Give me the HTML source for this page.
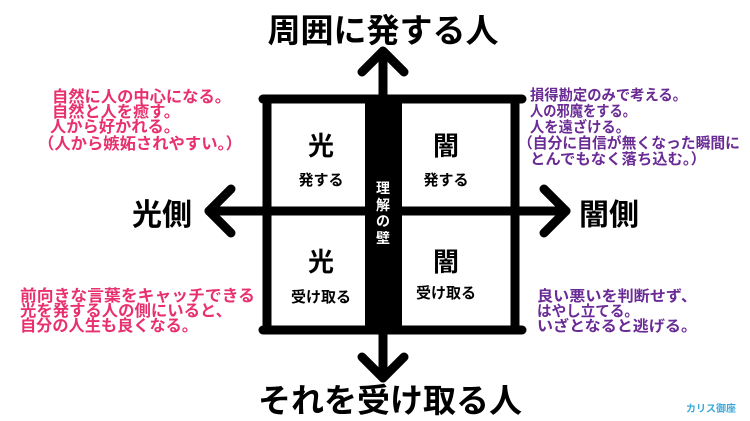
<!DOCTYPE html>
<html><head><meta charset="utf-8"><style>
html,body{margin:0;padding:0;background:#fff;}
svg{display:block;}
text{font-family:"Liberation Sans","Noto Sans CJK JP",sans-serif;font-weight:bold;}
</style></head><body>
<svg width="750" height="421" viewBox="0 0 750 421" xmlns="http://www.w3.org/2000/svg">
<g stroke="#000" stroke-width="9" stroke-linecap="round" stroke-linejoin="round" fill="none">
<line x1="383" y1="52" x2="383" y2="378"/>
<polyline points="362,72 383,51 404,72"/>
<polyline points="362,357 383,378 404,357"/>
<line x1="209" y1="211" x2="566" y2="211"/>
<polyline points="231,189 209,211 231,233"/>
<polyline points="544,189 566,211 544,233"/>
<rect x="267" y="99" width="248" height="231"/>
<line x1="263" y1="99" x2="522" y2="99"/>
<line x1="263" y1="330" x2="522" y2="330"/>
</g>
<rect x="365" y="99" width="37" height="231" fill="#000"/>
<g fill="#fff" font-size="14" text-anchor="middle">
<text x="383" y="193">理</text><text x="383" y="210">解</text><text x="383" y="226">の</text><text x="383" y="243">壁</text>
</g>
<g fill="#000" text-anchor="middle">
<text x="383" y="42" font-size="33">周囲に発する人</text>
<text x="390" y="412" font-size="33">それを受け取る人</text>
<text x="162" y="225" font-size="30">光側</text>
<text x="609" y="225" font-size="30">闇側</text>
<text x="321" y="155" font-size="26">光</text>
<text x="321" y="185" font-size="15">発する</text>
<text x="446" y="155" font-size="26">闇</text>
<text x="446" y="185" font-size="15">発する</text>
<text x="321" y="271" font-size="26">光</text>
<text x="321" y="302" font-size="15">受け取る</text>
<text x="446" y="271" font-size="26">闇</text>
<text x="446" y="298" font-size="15">受け取る</text>
</g>
<g fill="#e8306e" font-size="16" lengthAdjust="spacingAndGlyphs">
<text x="52" y="102" textLength="179" lengthAdjust="spacingAndGlyphs">自然に人の中心になる。</text>
<text x="52" y="117" textLength="128" lengthAdjust="spacingAndGlyphs">自然と人を癒す。</text>
<text x="50" y="132" textLength="130" lengthAdjust="spacingAndGlyphs">人から好かれる。</text>
<text x="38" y="149" textLength="204" lengthAdjust="spacingAndGlyphs">（人から嫉妬されやすい。）</text>
<text x="20" y="301" textLength="235" lengthAdjust="spacingAndGlyphs">前向きな言葉をキャッチできる</text>
<text x="20" y="316" textLength="212" lengthAdjust="spacingAndGlyphs">光を発する人の側にいると、</text>
<text x="20" y="331" textLength="178" lengthAdjust="spacingAndGlyphs">自分の人生も良くなる。</text>
</g>
<g fill="#6a2b95" font-size="15">
<text x="530" y="100" textLength="157" lengthAdjust="spacingAndGlyphs">損得勘定のみで考える。</text>
<text x="530" y="116" textLength="106" lengthAdjust="spacingAndGlyphs">人の邪魔をする。</text>
<text x="530" y="132" textLength="100" lengthAdjust="spacingAndGlyphs">人を遠ざける。</text>
<text x="518" y="148" textLength="222" lengthAdjust="spacingAndGlyphs">（自分に自信が無くなった瞬間に</text>
<text x="530" y="164" textLength="176" lengthAdjust="spacingAndGlyphs">とんでもなく落ち込む。）</text>
<text x="537" y="301" textLength="160" lengthAdjust="spacingAndGlyphs">良い悪いを判断せず、</text>
<text x="537" y="316" textLength="102" lengthAdjust="spacingAndGlyphs">はやし立てる。</text>
<text x="537" y="331" textLength="160" lengthAdjust="spacingAndGlyphs">いざとなると逃げる。</text>
</g>
<text x="686" y="412" font-size="10" fill="#3aa8d8">カリス御座</text>
</svg>
</body></html>
